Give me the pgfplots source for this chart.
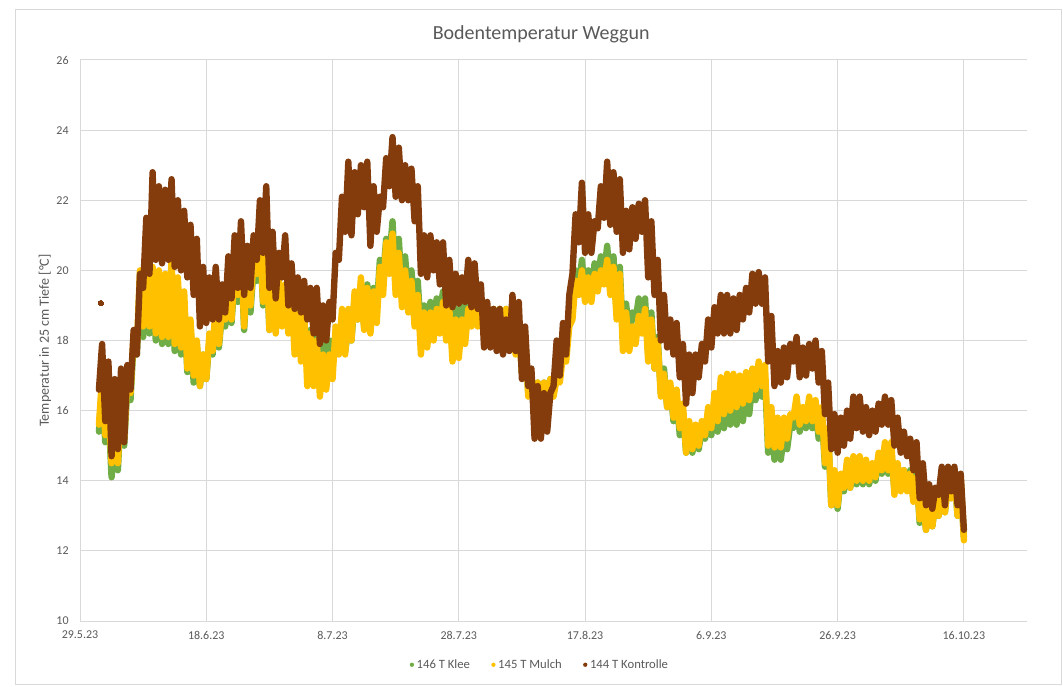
\documentclass[border=0pt]{standalone}
\usepackage{pgfplots}
\pgfplotsset{compat=1.18}
\usepackage{fontspec}
\setmainfont{Carlito}
\definecolor{klee}{HTML}{70AD47}
\definecolor{mulch}{HTML}{FFC000}
\definecolor{kontr}{HTML}{843C0C}
\definecolor{txt}{HTML}{595959}
\definecolor{gridc}{HTML}{D9D9D9}
\begin{document}
\begin{tikzpicture}
\useasboundingbox (0,0) rectangle (797.25pt,514.5pt);
\draw[gridc, line width=0.75pt] (11.25pt,1.5pt) rectangle (796pt,507pt);
\begin{axis}[
  at={(60pt,48.75pt)}, anchor=south west,
  scale only axis, width=710.25pt, height=420.75pt,
  xmin=0, xmax=150, ymin=10, ymax=26,
  xtick={0,20,...,140},
  xticklabels={29.5.23,18.6.23,8.7.23,28.7.23,17.8.23,6.9.23,26.9.23,16.10.23},
  ytick={10,12,...,26},
  /pgf/number format/assume math mode=true,
  major tick length=0pt,
  axis x line=bottom, axis y line=left,
  x axis line style={draw=gridc, line width=0.75pt, -},
  y axis line style={draw=none},
  grid=major, grid style={draw=gridc, line width=0.75pt},
  tick label style={font=\fontsize{9}{11}\selectfont, text=txt},
  xticklabel style={yshift=-4pt},
  yticklabel style={xshift=-5pt},
  ylabel={Temperatur in 25 cm Tiefe [°C]},
  ylabel style={at={(axis description cs:-0.037,0.5)}, anchor=center, font=\fontsize{10.5}{12}\selectfont, text=txt},
  title={Bodentemperatur Weggun},
  title style={at={(axis description cs:0.487,1.05)}, anchor=center, yshift=-7.5pt, font=\fontsize{15}{17}\selectfont, text=txt},
  legend style={at={(0.486,-0.078)}, anchor=center, draw=none, fill=none, legend columns=3,
    font=\fontsize{9.5}{11}\selectfont, text=txt,
    /tikz/every even column/.append style={column sep=14pt}},
  legend image code/.code={\path[#1, draw=none, fill] (0.2cm,0cm) circle (1.6pt);},
  every axis plot/.append style={line width=4.8pt, line join=round, line cap=round},
]
\addplot[color=klee, mark=none] coordinates {
(3,15.4)(3.5,16.7)(4,15.1)(4.5,16.0)(5,14.1)(5.5,15.1)(6,14.3)(6.5,16.1)(7,15.0)(7.5,16.7)
(8,16.3)(8.5,18.0)(9,17.6)(9.5,19.7)(10,18.1)(10.5,19.9)(11,18.2)(11.5,19.8)(12,18.0)(12.5,19.7)
(13,17.9)(13.5,19.6)(14,17.9)(14.5,19.9)(15,17.7)(15.5,19.5)(16,17.6)(16.5,19.1)(17,17.1)(17.5,18.4)
(18,16.8)(18.5,17.9)(19,16.7)(19.5,17.6)(20,16.9)(20.5,18.0)(21,17.6)(21.5,18.8)(22,17.8)(22.5,18.8)
(23,18.4)(23.5,19.4)(24,18.5)(24.5,19.8)(25,19.1)(25.5,20.5)(26,18.3)(26.5,20.0)(27,18.8)(27.5,20.1)
(28,19.7)(28.5,20.8)(29,19.0)(29.5,20.5)(30,18.3)(30.5,19.9)(31,18.3)(31.5,19.6)(32,18.5)(32.5,19.5)
(33,18.3)(33.5,19.2)(34,18.0)(34.5,18.9)(35,17.9)(35.5,18.6)(36,17.5)(36.5,18.3)(37,17.5)(37.5,18.1)
(38,17.4)(38.5,17.9)(39,17.5)(39.5,18.0)(40,17.6)(40.5,18.2)(41,17.7)(41.5,18.2)(42,17.7)(42.5,18.3)
(43,18.0)(43.5,19.2)(44,18.6)(44.5,19.6)(45,18.4)(45.5,19.6)(46,18.3)(46.5,19.5)(47,18.9)(47.5,20.3)
(48,19.8)(48.5,20.9)(49,20.3)(49.5,21.4)(50,19.7)(50.5,20.9)(51,19.3)(51.5,20.4)(52,19.1)(52.5,20.0)
(53,18.95)(53.5,19.7)(54,18.2)(54.5,19.0)(55,18.3)(55.5,19.1)(56,18.6)(56.5,19.2)(57,18.8)(57.5,19.4)
(58,18.5)(58.5,19.2)(59,18.0)(59.5,18.9)(60,18.1)(60.5,19.0)(61,18.6)(61.5,19.2)(62,18.6)(62.5,19.1)
(63,18.5)(63.5,18.95)(64,18.4)(64.5,18.9)(65,18.5)(65.5,18.9)(66,18.5)(66.5,18.9)(67,18.4)(67.5,18.9)
(68,18.1)(68.5,18.8)(69,17.8)(69.5,18.4)(70,17.1)(70.5,18.1)(71,16.5)(71.5,16.9)(72,16.5)(72.5,16.8)
(73,16.5)(73.5,16.8)(74,16.4)(74.5,16.9)(75,16.5)(75.5,17.0)(76,17.0)(76.5,17.8)(77,17.6)(77.5,18.6)
(78,18.8)(78.5,20.0)(79,19.5)(79.5,20.3)(80,19.3)(80.5,20.0)(81,19.3)(81.5,20.2)(82,19.7)(82.5,20.4)
(83,19.9)(83.5,20.7)(84,19.6)(84.5,20.4)(85,18.8)(85.5,20.1)(86,18.1)(86.5,19.05)(87,18.1)(87.5,18.8)
(88,18.6)(88.5,19.2)(89,18.6)(89.5,19.2)(90,17.6)(90.5,18.8)(91,17.2)(91.5,18.1)(92,16.5)(92.5,17.2)
(93,16.1)(93.5,16.7)(94,15.7)(94.5,16.4)(95,15.3)(95.5,16.0)(96,14.8)(96.5,15.5)(97,14.8)(97.5,15.4)
(98,14.9)(98.5,15.5)(99,15.2)(99.5,15.8)(100,15.3)(100.5,16.1)(101,15.4)(101.5,16.3)(102,15.5)(102.5,16.4)
(103,15.6)(103.5,16.5)(104,15.6)(104.5,16.5)(105,15.7)(105.5,16.6)(106,15.9)(106.5,16.8)(107,16.3)(107.5,16.9)
(108,16.4)(108.5,16.95)(109,14.8)(109.5,15.6)(110,14.6)(110.5,15.3)(111,14.6)(111.5,15.3)(112,14.9)(112.5,15.6)
(113,15.5)(113.5,16.1)(114,15.4)(114.5,15.9)(115,15.5)(115.5,16.1)(116,15.5)(116.5,16.1)(117,15.2)(117.5,15.9)
(118,14.4)(118.5,15.4)(119,13.3)(119.5,14.2)(120,13.2)(120.5,14.1)(121,13.7)(121.5,14.5)(122,13.8)(122.5,14.6)
(123,13.9)(123.5,14.6)(124,13.9)(124.5,14.5)(125,13.9)(125.5,14.4)(126,14.0)(126.5,14.7)(127,14.2)(127.5,14.9)
(128,14.2)(128.5,14.9)(129,13.7)(129.5,14.4)(130,13.8)(130.5,14.3)(131,13.9)(131.5,14.3)(132,13.5)(132.5,14.2)
(133,12.8)(133.5,13.4)(134,12.6)(134.5,13.2)(135,12.7)(135.5,13.4)(136,13.0)(136.5,13.9)(137,13.1)(137.5,14.0)
(138,13.5)(138.5,14.2)(139,13.0)(139.5,14.0)(140,12.4)
};
\addlegendentry{146 T Klee}
\addplot[color=mulch, mark=none] coordinates {
(3,15.6)(3.5,16.95)(4,15.3)(4.5,16.2)(5,14.5)(5.5,15.3)(6,14.5)(6.5,16.3)(7,15.2)(7.5,16.9)
(8,16.5)(8.5,18.2)(9,17.8)(9.5,20.0)(10,18.4)(10.5,20.3)(11,18.4)(11.5,20.1)(12,18.2)(12.5,20.0)
(13,18.1)(13.5,19.9)(14,18.1)(14.5,20.3)(15,17.9)(15.5,19.8)(16,17.8)(16.5,19.4)(17,17.2)(17.5,18.6)
(18,17.0)(18.5,18.0)(19,16.7)(19.5,17.6)(20,16.9)(20.5,18.2)(21,17.7)(21.5,19.0)(22,17.9)(22.5,18.9)
(23,18.6)(23.5,19.5)(24,18.6)(24.5,20.0)(25,19.3)(25.5,20.7)(26,18.4)(26.5,20.2)(27,19.0)(27.5,20.3)
(28,19.9)(28.5,21.0)(29,19.1)(29.5,20.7)(30,18.3)(30.5,20.0)(31,18.2)(31.5,19.7)(32,18.4)(32.5,19.6)
(33,18.2)(33.5,19.3)(34,17.6)(34.5,18.95)(35,17.4)(35.5,18.8)(36,16.7)(36.5,18.2)(37,16.7)(37.5,18.0)
(38,16.4)(38.5,17.6)(39,16.6)(39.5,17.6)(40,16.9)(40.5,18.4)(41,17.6)(41.5,18.9)(42,17.6)(42.5,18.9)
(43,18.0)(43.5,19.4)(44,18.6)(44.5,19.8)(45,18.3)(45.5,19.5)(46,18.2)(46.5,19.4)(47,18.5)(47.5,20.1)
(48,19.3)(48.5,20.8)(49,19.9)(49.5,21.05)(50,19.3)(50.5,20.5)(51,18.95)(51.5,20.0)(52,18.8)(52.5,19.7)
(53,18.4)(53.5,19.3)(54,17.6)(54.5,18.8)(55,17.8)(55.5,18.8)(56,18.0)(56.5,18.9)(57,18.2)(57.5,19.1)
(58,18.0)(58.5,18.9)(59,17.4)(59.5,18.6)(60,17.5)(60.5,18.6)(61,17.9)(61.5,18.9)(62,18.4)(62.5,18.95)
(63,18.4)(63.5,18.9)(64,18.4)(64.5,18.9)(65,18.4)(65.5,18.9)(66,18.4)(66.5,18.9)(67,18.4)(67.5,18.9)
(68,18.2)(68.5,18.7)(69,17.6)(69.5,18.4)(70,17.05)(70.5,18.1)(71,16.4)(71.5,16.9)(72,16.3)(72.5,16.8)
(73,16.3)(73.5,16.8)(74,16.3)(74.5,16.9)(75,16.4)(75.5,16.9)(76,16.8)(76.5,17.6)(77,17.4)(77.5,18.4)
(78,18.6)(78.5,19.7)(79,19.3)(79.5,20.0)(80,19.1)(80.5,19.8)(81,19.1)(81.5,19.9)(82,19.4)(82.5,20.0)
(83,19.6)(83.5,20.3)(84,19.3)(84.5,20.1)(85,18.6)(85.5,19.9)(86,17.7)(86.5,18.8)(87,17.7)(87.5,18.4)
(88,17.9)(88.5,18.7)(89,18.2)(89.5,18.9)(90,17.4)(90.5,18.6)(91,17.2)(91.5,18.0)(92,16.4)(92.5,17.05)
(93,16.1)(93.5,16.8)(94,15.8)(94.5,16.6)(95,15.5)(95.5,16.2)(96,14.8)(96.5,15.7)(97,14.9)(97.5,15.6)
(98,15.0)(98.5,15.7)(99,15.3)(99.5,16.1)(100,15.5)(100.5,16.5)(101,15.7)(101.5,16.95)(102,15.9)(102.5,17.05)
(103,16.0)(103.5,17.05)(104,16.1)(104.5,17.0)(105,16.2)(105.5,17.1)(106,16.3)(106.5,17.2)(107,16.6)(107.5,17.4)
(108,16.7)(108.5,17.3)(109,15.0)(109.5,16.1)(110,14.95)(110.5,15.8)(111,14.95)(111.5,15.8)(112,15.2)(112.5,15.9)
(113,15.8)(113.5,16.4)(114,15.6)(114.5,16.1)(115,15.7)(115.5,16.4)(116,15.7)(116.5,16.3)(117,15.4)(117.5,16.1)
(118,14.5)(118.5,15.5)(119,13.3)(119.5,14.3)(120,13.3)(120.5,14.2)(121,13.8)(121.5,14.6)(122,13.8)(122.5,14.7)
(123,14.0)(123.5,14.7)(124,14.0)(124.5,14.6)(125,14.0)(125.5,14.5)(126,14.1)(126.5,14.8)(127,14.3)(127.5,15.1)
(128,14.3)(128.5,15.1)(129,13.6)(129.5,14.5)(130,13.7)(130.5,14.3)(131,13.7)(131.5,14.2)(132,13.4)(132.5,14.1)
(133,12.9)(133.5,13.5)(134,12.6)(134.5,13.2)(135,12.7)(135.5,13.4)(136,13.0)(136.5,13.9)(137,13.1)(137.5,14.0)
(138,13.5)(138.5,14.2)(139,13.0)(139.5,14.1)(140,12.3)
};
\addlegendentry{145 T Mulch}
\addplot[color=kontr, mark=none] coordinates {
(3,16.6)(3.5,17.9)(4,15.7)(4.5,17.4)(5,14.7)(5.5,16.9)(6,14.9)(6.5,17.2)(7,15.1)(7.5,17.3)
(8,16.6)(8.5,18.3)(9,17.6)(9.5,19.9)(10,19.5)(10.5,21.5)(11,19.9)(11.5,22.8)(12,20.3)(12.5,22.4)
(13,20.2)(13.5,22.3)(14,20.3)(14.5,22.6)(15,20.1)(15.5,22.0)(16,20.0)(16.5,21.7)(17,19.8)(17.5,21.3)
(18,19.3)(18.5,20.9)(19,18.4)(19.5,20.1)(20,18.5)(20.5,19.8)(21,18.6)(21.5,20.1)(22,18.6)(22.5,19.6)
(23,18.8)(23.5,20.4)(24,19.2)(24.5,21.0)(25,19.5)(25.5,21.4)(26,19.3)(26.5,20.7)(27,19.5)(27.5,21.0)
(28,20.3)(28.5,22.0)(29,20.5)(29.5,22.4)(30,19.5)(30.5,21.1)(31,19.2)(31.5,20.5)(32,19.8)(32.5,21.0)
(33,19.0)(33.5,20.2)(34,18.9)(34.5,19.8)(35,18.8)(35.5,19.7)(36,18.6)(36.5,19.5)(37,18.2)(37.5,19.5)
(38,17.9)(38.5,19.0)(39,18.0)(39.5,19.1)(40,18.6)(40.5,20.5)(41,20.3)(41.5,22.1)(42,21.1)(42.5,23.1)
(43,21.0)(43.5,22.8)(44,21.6)(44.5,23.0)(45,21.8)(45.5,23.1)(46,20.7)(46.5,22.4)(47,21.1)(47.5,22.1)
(48,21.8)(48.5,23.2)(49,22.4)(49.5,23.8)(50,22.1)(50.5,23.5)(51,22.0)(51.5,23.0)(52,22.0)(52.5,22.9)
(53,21.4)(53.5,22.4)(54,19.9)(54.5,21.0)(55,19.8)(55.5,21.0)(56,20.0)(56.5,20.8)(57,19.6)(57.5,20.8)
(58,19.0)(58.5,20.3)(59,18.95)(59.5,19.9)(60,19.05)(60.5,19.8)(61,19.1)(61.5,20.3)(62,18.95)(62.5,20.2)
(63,18.9)(63.5,19.6)(64,17.8)(64.5,19.1)(65,17.8)(65.5,18.9)(66,17.7)(66.5,18.9)(67,17.6)(67.5,18.6)
(68,17.7)(68.5,19.3)(69,17.7)(69.5,19.1)(70,16.9)(70.5,18.4)(71,16.7)(71.5,17.2)(72,15.2)(72.5,16.7)
(73,15.2)(73.5,16.5)(74,15.4)(74.5,16.5)(75,16.7)(75.5,18.0)(76,17.0)(76.5,18.5)(77,17.6)(77.5,19.3)
(78,19.9)(78.5,21.6)(79,20.8)(79.5,22.5)(80,20.5)(80.5,21.6)(81,20.5)(81.5,21.4)(82,21.2)(82.5,22.4)
(83,21.5)(83.5,23.1)(84,21.3)(84.5,22.8)(85,21.1)(85.5,22.6)(86,20.5)(86.5,21.7)(87,20.6)(87.5,21.8)
(88,20.9)(88.5,21.9)(89,21.1)(89.5,22.0)(90,19.8)(90.5,21.4)(91,19.3)(91.5,20.3)(92,18.0)(92.5,19.3)
(93,17.8)(93.5,18.6)(94,17.6)(94.5,18.5)(95,16.95)(95.5,17.9)(96,16.2)(96.5,17.6)(97,16.5)(97.5,17.6)
(98,16.95)(98.5,17.9)(99,17.4)(99.5,18.6)(100,17.8)(100.5,18.95)(101,18.2)(101.5,19.3)(102,18.2)(102.5,19.3)
(103,18.2)(103.5,19.2)(104,18.3)(104.5,19.3)(105,18.6)(105.5,19.5)(106,18.8)(106.5,19.9)(107,19.05)(107.5,19.95)
(108,19.05)(108.5,19.8)(109,17.4)(109.5,18.7)(110,16.7)(110.5,17.7)(111,16.8)(111.5,17.8)(112,16.95)(112.5,17.9)
(113,17.4)(113.5,18.1)(114,16.95)(114.5,17.8)(115,17.0)(115.5,17.9)(116,17.2)(116.5,18.0)(117,16.8)(117.5,17.7)
(118,15.9)(118.5,16.8)(119,14.9)(119.5,15.9)(120,14.8)(120.5,15.8)(121,15.0)(121.5,16.0)(122,15.2)(122.5,16.4)
(123,15.5)(123.5,16.4)(124,15.4)(124.5,16.1)(125,15.3)(125.5,16.0)(126,15.4)(126.5,16.2)(127,15.6)(127.5,16.4)
(128,15.6)(128.5,16.3)(129,15.0)(129.5,15.8)(130,14.8)(130.5,15.4)(131,14.7)(131.5,15.2)(132,14.3)(132.5,15.1)
(133,13.5)(133.5,14.5)(134,13.3)(134.5,13.9)(135,13.2)(135.5,13.8)(136,13.6)(136.5,14.4)(137,13.3)(137.5,14.4)
(138,13.7)(138.5,14.4)(139,13.3)(139.5,14.2)(140,12.6)
};
\addlegendentry{144 T Kontrolle}
\addplot[color=kontr, only marks, mark=*, mark size=2pt, line width=0pt, forget plot] coordinates {(3.3,19.07)};
\end{axis}
\end{tikzpicture}
\end{document}
